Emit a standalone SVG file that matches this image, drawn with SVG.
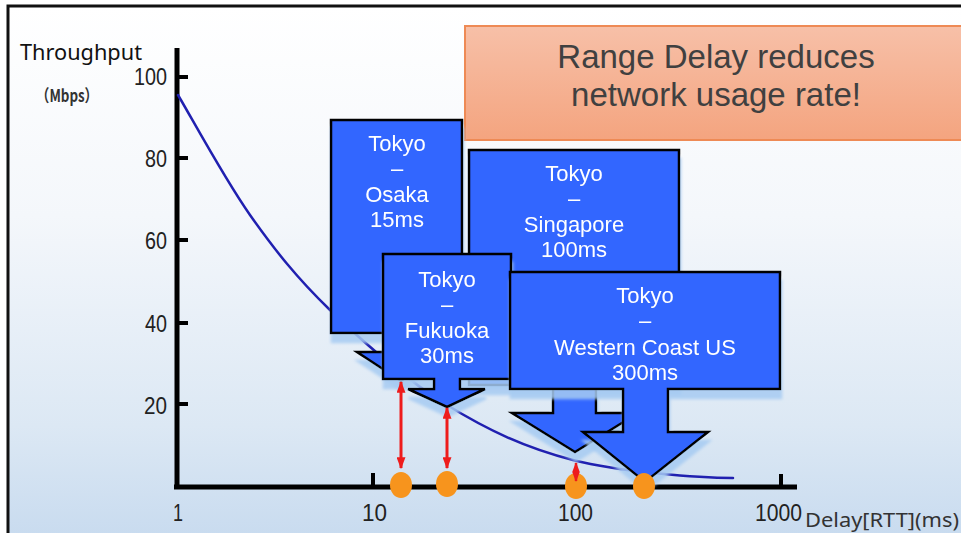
<svg xmlns="http://www.w3.org/2000/svg" width="961" height="533" viewBox="0 0 961 533">
<defs>
<linearGradient id="bg" x1="0" y1="0" x2="0" y2="1">
<stop offset="0" stop-color="#ffffff"/>
<stop offset="0.35" stop-color="#f4f7fb"/>
<stop offset="0.7" stop-color="#dce8f4"/>
<stop offset="1" stop-color="#bcd3ec"/>
</linearGradient>
<linearGradient id="og" x1="0" y1="0" x2="0" y2="1">
<stop offset="0" stop-color="#f7c0a8"/>
<stop offset="1" stop-color="#f4a47f"/>
</linearGradient>
<filter id="sh" x="-10%" y="-10%" width="120%" height="130%">
<feOffset in="SourceAlpha" dx="1" dy="9" result="o"/>
<feGaussianBlur in="o" stdDeviation="1.5" result="b"/>
<feFlood flood-color="#a6cbf2" flood-opacity="0.85"/>
<feComposite in2="b" operator="in" result="s"/>
<feMerge><feMergeNode in="s"/><feMergeNode in="SourceGraphic"/></feMerge>
</filter>
<marker id="rh" viewBox="0 0 10 10" refX="9" refY="5" markerWidth="4" markerHeight="3" preserveAspectRatio="none" orient="auto-start-reverse" markerUnits="strokeWidth">
<path d="M0,0 L10,5 L0,10 Z" fill="#ee1c1c"/>
</marker>
<style>
.call{fill:#3366ff;stroke:#000;stroke-width:2.5;stroke-linejoin:miter}
.ct{fill:#fff;font-family:"Liberation Sans",Arial,sans-serif;font-size:22px;text-anchor:middle}
.ax{stroke:#000;stroke-width:5;fill:none}
.tk{stroke:#000;stroke-width:4}
.num{font-family:"Liberation Sans",Arial,sans-serif;font-size:23px;fill:#222}
.dot{fill:#f7941d}
.red{stroke:#ee1c1c;stroke-width:3;marker-start:url(#rh);marker-end:url(#rh)}
.tt{font-family:"Liberation Sans",Arial,sans-serif;font-size:33px;fill:#404040;text-anchor:middle}
</style>
</defs>
<rect x="8" y="6" width="1000" height="600" fill="url(#bg)" stroke="#111" stroke-width="3"/>

<g id="title">
<rect x="465" y="26" width="520" height="114" fill="url(#og)" stroke="#ee8a55" stroke-width="2"/>
<text class="tt" x="716" y="68">Range Delay reduces</text>
<text class="tt" x="716" y="106">network usage rate!</text>
</g>

<g id="axes">
<text x="20" y="60" font-family="'Noto Sans','DejaVu Sans',sans-serif" font-size="21" fill="#111" textLength="122" lengthAdjust="spacingAndGlyphs">Throughput</text>
<text x="36" y="102" font-family="'Noto Sans CJK JP','Noto Sans',sans-serif" font-size="17" font-weight="bold" fill="#333" textLength="62" lengthAdjust="spacingAndGlyphs">（Mbps）</text>
<path class="ax" d="M177,48 V489 M174,487 H797"/>
<path class="tk" d="M177,77 H188 M177,158 H188 M177,240 H188 M177,323 H188 M177,404 H188 M373,473 V487 M781,474 V487"/>
<text class="num" x="167" y="85" text-anchor="end" textLength="33" lengthAdjust="spacingAndGlyphs">100</text>
<text class="num" x="167" y="167" text-anchor="end" textLength="22" lengthAdjust="spacingAndGlyphs">80</text>
<text class="num" x="167" y="249" text-anchor="end" textLength="22" lengthAdjust="spacingAndGlyphs">60</text>
<text class="num" x="167" y="332" text-anchor="end" textLength="22" lengthAdjust="spacingAndGlyphs">40</text>
<text class="num" x="167" y="414" text-anchor="end" textLength="23" lengthAdjust="spacingAndGlyphs">20</text>
<text class="num" x="173" y="521" textLength="10" lengthAdjust="spacingAndGlyphs">1</text>
<text class="num" x="362" y="521" textLength="25" lengthAdjust="spacingAndGlyphs">10</text>
<text class="num" x="558" y="521" textLength="35" lengthAdjust="spacingAndGlyphs">100</text>
<text class="num" x="755" y="521" textLength="47" lengthAdjust="spacingAndGlyphs">1000</text>
<text x="805" y="527" font-family="'Noto Sans','DejaVu Sans',sans-serif" font-size="19" fill="#333" textLength="154" lengthAdjust="spacingAndGlyphs">Delay[RTT](ms)</text>
</g>

<g id="curve">
<path fill="none" stroke="#2020b0" stroke-width="2.5" stroke-linecap="round" d="M178,95 C190,115 224.7,179.2 250,215 C275.3,250.8 297.2,278.3 330,310 C362.8,341.7 406.5,380 447,405 C487.5,430 525.3,447.8 573,460 C620.7,472.2 700,478 733,478"/>
</g>

<g id="osaka" filter="url(#sh)">
<path class="call" d="M331,120 H462 V333 H414 V352 H445 L401,381 L357,352 H388 V333 H331 Z"/>
<text class="ct" x="397" y="151">Tokyo</text>
<text class="ct" x="397" y="176">–</text>
<text class="ct" x="397" y="202">Osaka</text>
<text class="ct" x="397" y="227">15ms</text>
</g>

<g id="singapore" filter="url(#sh)">
<path class="call" d="M469,150 H679 V385 H596 V413 H638 L575,452 L512,413 H553 V385 H469 Z"/>
<text class="ct" x="574" y="181">Tokyo</text>
<text class="ct" x="574" y="206">–</text>
<text class="ct" x="574" y="232">Singapore</text>
<text class="ct" x="574" y="257">100ms</text>
</g>

<g id="fukuoka" filter="url(#sh)">
<path class="call" d="M383,254 H511 V379 H460 V389 H485 L447,407 L408,389 H434 V379 H383 Z"/>
<text class="ct" x="447" y="287">Tokyo</text>
<text class="ct" x="447" y="312">–</text>
<text class="ct" x="447" y="338">Fukuoka</text>
<text class="ct" x="447" y="363">30ms</text>
</g>

<g id="westcoast" filter="url(#sh)">
<path class="call" d="M510,272 H780 V389 H668 V432 H708 L645,482 L583,432 H623 V389 H510 Z"/>
<text class="ct" x="645" y="303">Tokyo</text>
<text class="ct" x="645" y="328">–</text>
<text class="ct" x="645" y="355">Western Coast US</text>
<text class="ct" x="645" y="380">300ms</text>
</g>

<g id="points">
<ellipse class="dot" cx="401" cy="485" rx="11" ry="13"/>
<ellipse class="dot" cx="447" cy="484" rx="11" ry="13"/>
<ellipse class="dot" cx="576" cy="486" rx="11" ry="13"/>
<ellipse class="dot" cx="644" cy="486" rx="11" ry="13"/>
</g>

<g id="connectors">
<line class="red" x1="401" y1="382" x2="401" y2="468"/>
<line class="red" x1="447" y1="408" x2="447" y2="468"/>
<line class="red" x1="576" y1="463" x2="576" y2="481" style="stroke-width:2.5"/>
</g>
</svg>
